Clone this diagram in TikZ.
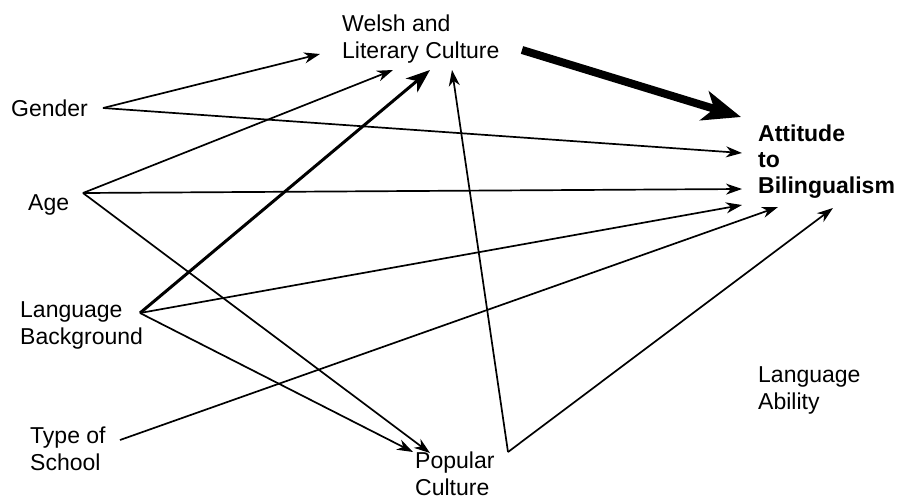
\documentclass[tikz,border=0pt]{standalone}
\usepackage{fontspec}
\setmainfont{Liberation Sans}
\usetikzlibrary{arrows.meta}
\begin{document}
\begin{tikzpicture}[x=1pt,y=-1pt,
  lbl/.style={anchor=west,align=left,inner sep=0pt,font=\fontsize{23}{27}\selectfont},
  boldlbl/.style={lbl,font=\fontsize{23}{26}\selectfont\bfseries},
  thin/.style={line width=1.7pt,-{Stealth[length=16pt,width=11pt,inset=5pt]}},
  mid/.style={line width=3pt,-{Stealth[length=24pt,width=18pt,inset=7pt]}},
  heavy/.style={line width=8pt,-{Stealth[length=38pt,width=30pt,inset=10pt]}}]
\useasboundingbox (0,0) rectangle (903,501);
% labels
\node[lbl] (welsh) at (342,39) {Welsh and\\Literary Culture};
\node[lbl] (gender) at (11,108) {Gender};
\node[lbl] (age) at (28,205) {Age};
\node[lbl] (langbg) at (20,325) {Language\\Background};
\node[lbl] (school) at (30,449) {Type of\\School};
\node[lbl] (popular) at (415,474) {Popular\\Culture};
\node[boldlbl] (attitude) at (758,162) {Attitude\\to\\Bilingualism};
\node[lbl] (ability) at (758,390) {Language\\Ability};
% ports
\coordinate (gP) at (103,108);
\coordinate (aP) at (83,193);
\coordinate (lP) at (140,313);
\coordinate (tP) at (120,440);
\coordinate (pP) at (508,452);
\coordinate (wOut) at (522,50);
\coordinate (wG) at (320,54);
\coordinate (wA) at (393,70);
\coordinate (wL) at (430,70);
\coordinate (wP) at (452,70);
\coordinate (tW) at (741,117);
\coordinate (tG) at (742,153);
\coordinate (tA) at (742,189);
\coordinate (tL) at (742,205);
\coordinate (tT) at (778,207);
\coordinate (tPo) at (833,208);
\coordinate (pA) at (430,453);
\coordinate (pL) at (413,452);
% connectors
\draw[thin] (gP) -- (wG);
\draw[thin] (gP) -- (tG);
\draw[thin] (aP) -- (wA);
\draw[thin] (aP) -- (tA);
\draw[thin] (aP) -- (pA);
\draw[mid] (lP) -- (wL);
\draw[thin] (lP) -- (tL);
\draw[thin] (lP) -- (pL);
\draw[thin] (tP) -- (tT);
\draw[thin] (pP) -- (wP);
\draw[thin] (pP) -- (tPo);
\draw[heavy] (wOut) -- (tW);
\end{tikzpicture}
\end{document}
